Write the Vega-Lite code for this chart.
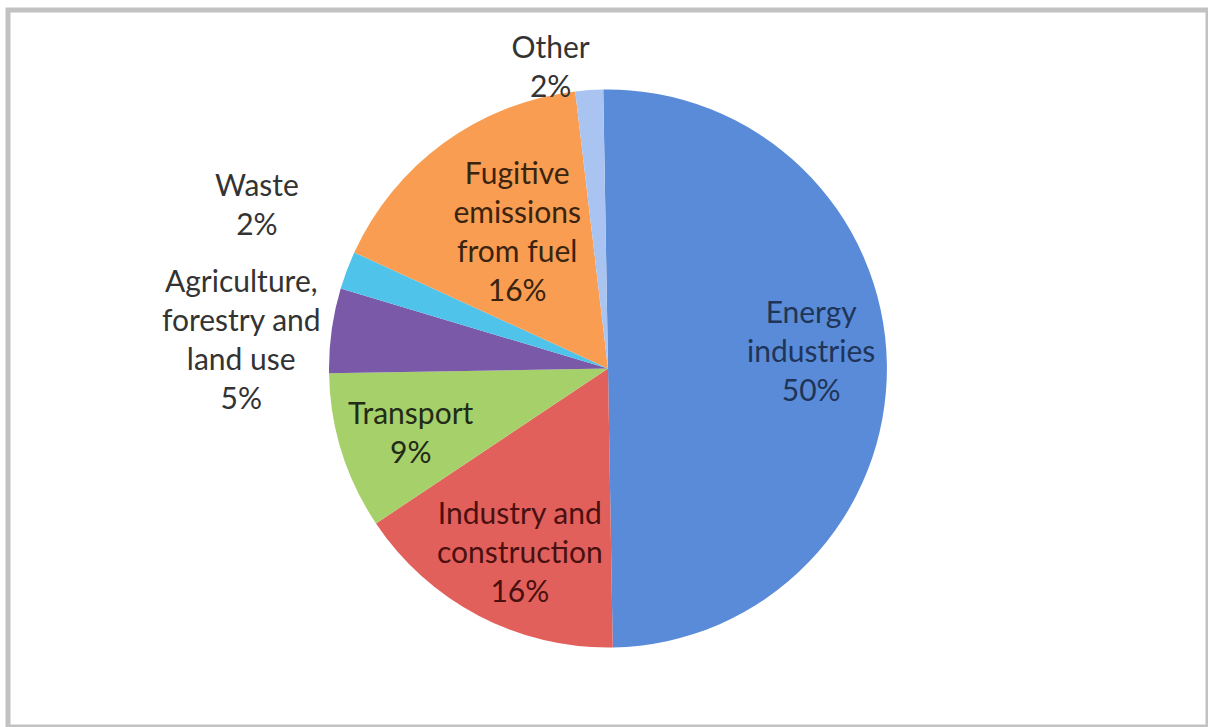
{
  "$schema": "https://vega.github.io/schema/vega-lite/v6.json",
  "width": 1200,
  "height": 717,
  "autosize": {"type": "none"},
  "padding": {"left": 8, "top": 10, "right": 0, "bottom": 0},
  "background": "white",
  "config": {"view": {"stroke": null}},
  "data": {
    "values": [
      {"rank": 1, "category": "Energy industries", "share": 50, "label": "Energy\nindustries\n50%"},
      {"rank": 2, "category": "Industry and construction", "share": 15.9, "label": "Industry and\nconstruction\n16%"},
      {"rank": 3, "category": "Transport", "share": 9.1, "label": "Transport\n9%"},
      {"rank": 4, "category": "Agriculture, forestry and land use", "share": 4.9, "label": "Agriculture,\nforestry and\nland use\n5%"},
      {"rank": 5, "category": "Waste", "share": 2.2, "label": "Waste\n2%"},
      {"rank": 6, "category": "Fugitive emissions from fuel", "share": 16.3, "label": "Fugitive\nemissions\nfrom fuel\n16%"},
      {"rank": 7, "category": "Other", "share": 1.6, "label": "Other\n2%"}
    ]
  },
  "layer": [
    {
      "data": {"values": [{"frame": "border"}]},
      "mark": {"type": "rect", "fill": null, "stroke": "#c2c2c2", "strokeWidth": 5},
      "encoding": {
        "x": {"value": 0},
        "x2": {"value": "width"},
        "y": {"value": 0},
        "y2": {"value": "height"}
      }
    },
    {
      "encoding": {
        "theta": {"field": "share", "type": "quantitative", "stack": true, "scale": {"range": [-0.017, 6.266]}},
        "order": {"field": "rank", "type": "quantitative"},
        "detail": {"field": "category", "type": "nominal"}
      },
      "layer": [
        {
          "mark": {"type": "arc", "outerRadius": 279},
          "encoding": {
            "color": {
              "field": "category",
              "type": "nominal",
              "legend": null,
              "scale": {
                "domain": ["Energy industries", "Industry and construction", "Transport", "Agriculture, forestry and land use", "Waste", "Fugitive emissions from fuel", "Other"],
                "range": ["#5a8bd9", "#e2605b", "#a6d06a", "#7a5aa8", "#4fc3ea", "#f99d52", "#a9c4f0"]
              }
            }
          }
        },
        {
          "mark": {"type": "text", "radius": 204, "thetaOffset": -0.072, "dy": -36, "font": "Lato", "fontSize": 30, "lineBreak": "\n", "lineHeight": 39, "align": "center", "baseline": "middle", "color": "#1f3558"},
          "encoding": {"text": {"condition": {"test": "datum.rank == 1", "field": "label", "type": "nominal"}, "value": ""}}
        },
        {
          "mark": {"type": "text", "radius": 203, "thetaOffset": -0.033, "dy": -36, "font": "Lato", "fontSize": 30, "lineBreak": "\n", "lineHeight": 39, "align": "center", "baseline": "middle", "color": "#4a1010"},
          "encoding": {"text": {"condition": {"test": "datum.rank == 2", "field": "label", "type": "nominal"}, "value": ""}}
        },
        {
          "mark": {"type": "text", "radius": 207, "thetaOffset": -0.005, "dy": -16.5, "font": "Lato", "fontSize": 30, "lineBreak": "\n", "lineHeight": 39, "align": "center", "baseline": "middle", "color": "#222a18"},
          "encoding": {"text": {"condition": {"test": "datum.rank == 3", "field": "label", "type": "nominal"}, "value": ""}}
        },
        {
          "mark": {"type": "text", "radius": 368, "thetaOffset": -0.054, "dy": -55.5, "font": "Lato", "fontSize": 30, "lineBreak": "\n", "lineHeight": 39, "align": "center", "baseline": "middle", "color": "#333333"},
          "encoding": {"text": {"condition": {"test": "datum.rank == 4", "field": "label", "type": "nominal"}, "value": ""}}
        },
        {
          "mark": {"type": "text", "radius": 388, "thetaOffset": 0.08, "dy": -16.5, "font": "Lato", "fontSize": 30, "lineBreak": "\n", "lineHeight": 39, "align": "center", "baseline": "middle", "color": "#333333"},
          "encoding": {"text": {"condition": {"test": "datum.rank == 5", "field": "label", "type": "nominal"}, "value": ""}}
        },
        {
          "mark": {"type": "text", "radius": 165, "thetaOffset": 0.047, "dy": -55.5, "font": "Lato", "fontSize": 30, "lineBreak": "\n", "lineHeight": 39, "align": "center", "baseline": "middle", "color": "#3a2410"},
          "encoding": {"text": {"condition": {"test": "datum.rank == 6", "field": "label", "type": "nominal"}, "value": ""}}
        },
        {
          "mark": {"type": "text", "radius": 308, "thetaOffset": -0.12, "dy": -16.5, "font": "Lato", "fontSize": 30, "lineBreak": "\n", "lineHeight": 39, "align": "center", "baseline": "middle", "color": "#333333"},
          "encoding": {"text": {"condition": {"test": "datum.rank == 7", "field": "label", "type": "nominal"}, "value": ""}}
        }
      ]
    }
  ]
}
